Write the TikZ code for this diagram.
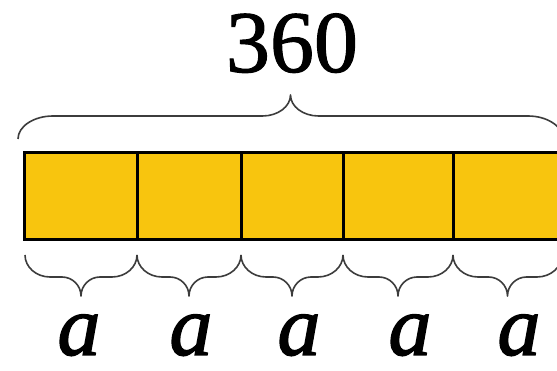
\documentclass[tikz,border=0pt]{standalone}
\usepackage{fontspec}
\setmainfont{Liberation Serif}
\newfontfamily\heavyserif[RawFeature={embolden=1.2}]{Liberation Serif}
\newfontfamily\heavyserifi[RawFeature={embolden=1.6}]{Liberation Serif}
\definecolor{baryellow}{HTML}{F8C50E}
\definecolor{bracegray}{HTML}{3C3C3C}
\tikzset{
  cell/.style={draw=black, fill=baryellow, line width=3pt, rectangle, inner sep=0pt, outer sep=0pt, minimum height=87pt},
  bracestyle/.style={draw=bracegray, line width=1.6pt, line join=round},
  biglabel/.style={font=\heavyserif\fontsize{88}{88}\selectfont, inner sep=0pt, anchor=base},
  partlabel/.style={font=\heavyserifi\fontsize{86}{86}\selectfont\itshape, inner sep=0pt, anchor=base},
}
% #1 xl, #2 xr, #3 y base, #4 y middle, #5 y tip, #6 end-curve width, #7 tip-curve width
\newcommand\mybrace[7]{%
  \draw[bracestyle]
    (#1,#3) .. controls (#1,{#3+0.55*(#4-#3)}) and ({#1+0.45*#6},#4) .. ({#1+#6},#4)
    -- ({(#1+#2)/2-#7},#4) .. controls ({(#1+#2)/2-0.45*#7},#4) and ({(#1+#2)/2},{#4+0.45*(#5-#4)}) .. ({(#1+#2)/2},#5)
    .. controls ({(#1+#2)/2},{#4+0.45*(#5-#4)}) and ({(#1+#2)/2+0.45*#7},#4) .. ({(#1+#2)/2+#7},#4)
    -- ({#2-#6},#4) .. controls ({#2-0.45*#6},#4) and (#2,{#3+0.55*(#4-#3)}) .. (#2,#3);
}
\begin{document}
\begin{tikzpicture}[x=1pt,y=-1pt]
\clip (0,0) rectangle (557,371);
\fill[white] (0,0) rectangle (557,371);
% bar cells
\node[cell, minimum width=113pt] (c1) at (80.5,196.5) {};
\node[cell, minimum width=104pt] (c2) at (189,196.5) {};
\node[cell, minimum width=102pt] (c3) at (292,196.5) {};
\node[cell, minimum width=110pt] (c4) at (398,196.5) {};
\node[cell, minimum width=109pt] (c5) at (507.5,196.5) {};
% top brace and total
\mybrace{18}{563}{139}{116}{95}{35}{28}
\node[biglabel] (total) at (292,72) {360};
% bottom braces
\mybrace{25}{137}{255}{277}{296}{25}{19}
\mybrace{137}{241}{255}{277}{296}{25}{19}
\mybrace{241}{343}{255}{277}{296}{25}{19}
\mybrace{343}{453}{255}{277}{296}{25}{19}
\mybrace{453}{562}{255}{277}{296}{25}{19}
% labels
\node[partlabel] (a1) at (79,355) {a};
\node[partlabel] (a2) at (191,355) {a};
\node[partlabel] (a3) at (299,355) {a};
\node[partlabel] (a4) at (410,355) {a};
\node[partlabel] (a5) at (519,355) {a};
\end{tikzpicture}
\end{document}
